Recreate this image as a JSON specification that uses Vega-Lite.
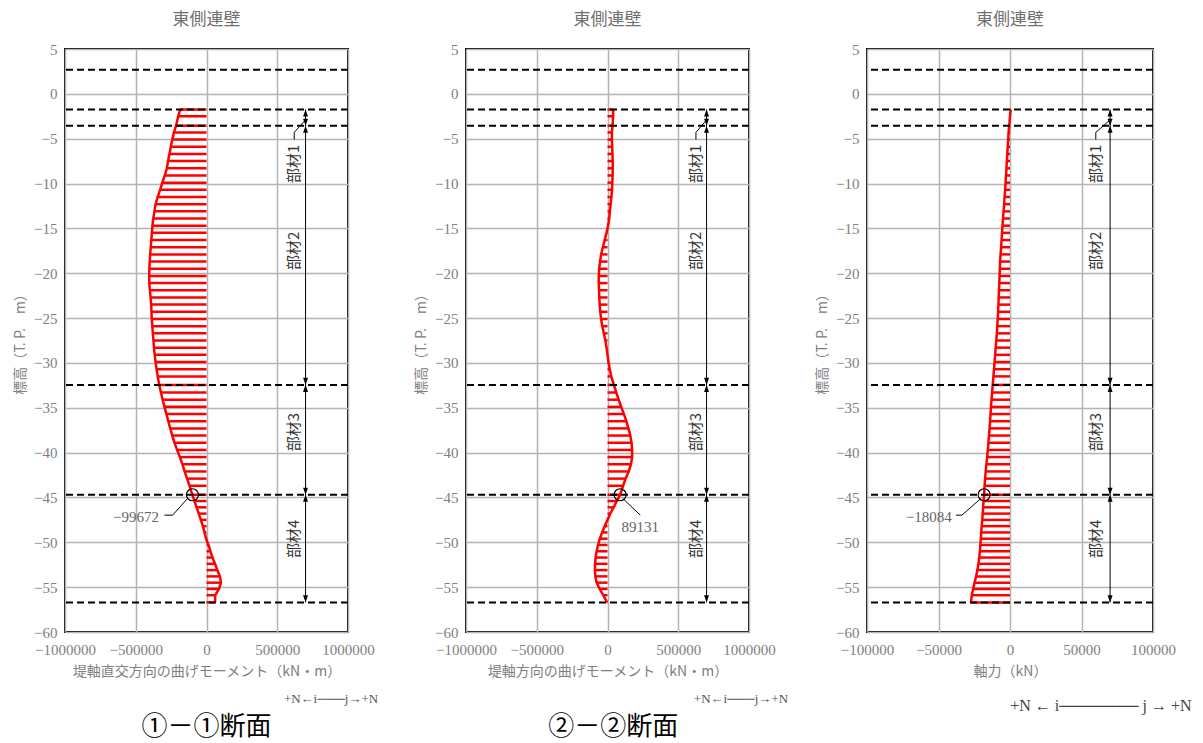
{
  "$schema": "https://vega.github.io/schema/vega-lite/v6.json",
  "background": "white",
  "padding": {"left": 12, "top": 10, "right": 5, "bottom": 5},
  "datasets": {
    "curve": [
      {"z": -1.75, "m1": -186000, "m2": 40000, "n": 500},
      {"z": -2.5, "m1": -200000, "m2": 40000, "n": 0},
      {"z": -3.55, "m1": -215000, "m2": 36000, "n": -500},
      {"z": -4.3, "m1": -230000, "m2": 31000, "n": -1000},
      {"z": -5.1, "m1": -242000, "m2": 31000, "n": -1300},
      {"z": -5.9, "m1": -252000, "m2": 33000, "n": -1600},
      {"z": -6.7, "m1": -262000, "m2": 35000, "n": -1900},
      {"z": -7.5, "m1": -272000, "m2": 37000, "n": -2200},
      {"z": -8.3, "m1": -280000, "m2": 37000, "n": -2500},
      {"z": -9.1, "m1": -295000, "m2": 36000, "n": -2800},
      {"z": -9.9, "m1": -312000, "m2": 34000, "n": -3100},
      {"z": -10.7, "m1": -328000, "m2": 32000, "n": -3400},
      {"z": -11.5, "m1": -345000, "m2": 28000, "n": -3800},
      {"z": -12.3, "m1": -360000, "m2": 22000, "n": -4100},
      {"z": -13.1, "m1": -368000, "m2": 17000, "n": -4500},
      {"z": -13.9, "m1": -376000, "m2": 12000, "n": -4900},
      {"z": -14.7, "m1": -382000, "m2": 4000, "n": -5200},
      {"z": -15.5, "m1": -386000, "m2": -7000, "n": -5600},
      {"z": -16.3, "m1": -390000, "m2": -20000, "n": -5900},
      {"z": -17.1, "m1": -394000, "m2": -33000, "n": -6200},
      {"z": -17.9, "m1": -398000, "m2": -45000, "n": -6600},
      {"z": -18.7, "m1": -401000, "m2": -53000, "n": -6900},
      {"z": -19.5, "m1": -404000, "m2": -59000, "n": -7100},
      {"z": -20.3, "m1": -405000, "m2": -62000, "n": -7300},
      {"z": -21.1, "m1": -404000, "m2": -62000, "n": -7500},
      {"z": -21.9, "m1": -400000, "m2": -60000, "n": -7700},
      {"z": -22.7, "m1": -395000, "m2": -58000, "n": -7900},
      {"z": -23.5, "m1": -391000, "m2": -55000, "n": -8100},
      {"z": -24.3, "m1": -389000, "m2": -51000, "n": -8300},
      {"z": -25.1, "m1": -387000, "m2": -45000, "n": -8600},
      {"z": -25.9, "m1": -383000, "m2": -37000, "n": -8900},
      {"z": -26.7, "m1": -379000, "m2": -26000, "n": -9200},
      {"z": -27.5, "m1": -375000, "m2": -15000, "n": -9600},
      {"z": -28.3, "m1": -371000, "m2": -7000, "n": -10000},
      {"z": -29.1, "m1": -366000, "m2": 0, "n": -10400},
      {"z": -29.9, "m1": -360000, "m2": 7000, "n": -10800},
      {"z": -30.7, "m1": -353000, "m2": 16000, "n": -11200},
      {"z": -31.5, "m1": -345000, "m2": 27000, "n": -11600},
      {"z": -32.45, "m1": -334000, "m2": 45000, "n": -12100},
      {"z": -33.3, "m1": -322000, "m2": 62000, "n": -12500},
      {"z": -34.1, "m1": -310000, "m2": 79000, "n": -12900},
      {"z": -34.9, "m1": -297000, "m2": 97000, "n": -13300},
      {"z": -35.7, "m1": -283000, "m2": 116000, "n": -13600},
      {"z": -36.5, "m1": -270000, "m2": 133000, "n": -13900},
      {"z": -37.3, "m1": -256000, "m2": 148000, "n": -14300},
      {"z": -38.1, "m1": -242000, "m2": 161000, "n": -14700},
      {"z": -38.9, "m1": -226000, "m2": 170000, "n": -15100},
      {"z": -39.7, "m1": -208000, "m2": 174000, "n": -15500},
      {"z": -40.5, "m1": -188000, "m2": 174000, "n": -16000},
      {"z": -41.3, "m1": -170000, "m2": 166000, "n": -16500},
      {"z": -42.1, "m1": -155000, "m2": 150000, "n": -17000},
      {"z": -42.9, "m1": -137000, "m2": 128000, "n": -17400},
      {"z": -43.7, "m1": -120000, "m2": 110000, "n": -17800},
      {"z": -44.7, "m1": -99672, "m2": 89131, "n": -18084},
      {"z": -45.4, "m1": -85000, "m2": 66000, "n": -18500},
      {"z": -46.1, "m1": -70000, "m2": 43000, "n": -18800},
      {"z": -46.8, "m1": -55000, "m2": 20000, "n": -19100},
      {"z": -47.5, "m1": -40000, "m2": 0, "n": -19400},
      {"z": -48.2, "m1": -26000, "m2": -20000, "n": -19800},
      {"z": -48.9, "m1": -14000, "m2": -38000, "n": -20100},
      {"z": -49.6, "m1": -3000, "m2": -54000, "n": -20400},
      {"z": -50.3, "m1": 14000, "m2": -67000, "n": -20700},
      {"z": -51.0, "m1": 28000, "m2": -77000, "n": -21100},
      {"z": -51.7, "m1": 42000, "m2": -84000, "n": -21500},
      {"z": -52.4, "m1": 60000, "m2": -88000, "n": -22100},
      {"z": -53.1, "m1": 77000, "m2": -89000, "n": -22800},
      {"z": -53.8, "m1": 95000, "m2": -86000, "n": -23700},
      {"z": -54.5, "m1": 102000, "m2": -77000, "n": -24800},
      {"z": -55.2, "m1": 88000, "m2": -55000, "n": -25800},
      {"z": -55.9, "m1": 62000, "m2": -30000, "n": -26700},
      {"z": -56.7, "m1": 60000, "m2": -3000, "n": -27300}
    ],
    "dash": [{"z": 2.7}, {"z": -1.75}, {"z": -3.55}, {"z": -32.45}, {"z": -44.7}, {"z": -56.7}],
    "span": [{"top": -1.75, "bot": -56.7}],
    "member": [
      {"m": "部材1", "top": -1.75, "bot": -3.55, "mid": -7.8},
      {"m": "部材2", "top": -3.55, "bot": -32.45, "mid": -17.5},
      {"m": "部材3", "top": -32.45, "bot": -44.7, "mid": -37.7},
      {"m": "部材4", "top": -44.7, "bot": -56.7, "mid": -49.6}
    ]
  },
  "config": {
    "view": {"stroke": "#000000", "strokeWidth": 2},
    "axis": {
      "grid": true, "gridColor": "#b4b4b4", "gridWidth": 1.5,
      "domain": false, "ticks": false,
      "labelFont": "Liberation Serif", "labelFontSize": 15, "labelColor": "#808080",
      "labelFlush": false, "labelOverlap": false,
      "titleFont": "Noto Sans CJK JP", "titleFontSize": 14, "titleColor": "#808080", "titleFontWeight": "normal"
    },
    "axisX": {"labelPadding": 10, "titlePadding": 7},
    "axisY": {"labelPadding": 8, "titlePadding": 6},
    "title": {"font": "Noto Sans CJK JP", "fontSize": 17, "color": "#707070", "fontWeight": "normal", "offset": 13},
    "concat": {"spacing": 118}
  },
  "bounds": "flush",
  "hconcat": [
    {
      "width": 283, "height": 583,
      "title": "東側連壁",
      "layer": [
        {"data": {"name": "curve"}, "mark": {"type": "rule", "color": "#ff0000", "strokeWidth": 2.5},
         "encoding": {
           "x": {"field": "m1", "type": "quantitative", "scale": {"domain": [-1000000, 1000000], "nice": false},
                 "axis": {"values": [-1000000, -500000, 0, 500000, 1000000], "format": "d", "title": "堤軸直交方向の曲げモーメント（kN・m）"}},
           "x2": {"datum": 0},
           "y": {"field": "z", "type": "quantitative", "scale": {"domain": [-60, 5], "nice": false, "zero": false},
                 "axis": {"values": [5, 0, -5, -10, -15, -20, -25, -30, -35, -40, -45, -50, -55, -60], "title": "標高（T. P.　m）"}}}},
        {"data": {"name": "curve"}, "mark": {"type": "line", "color": "#ff0000", "strokeWidth": 2.5},
         "encoding": {"x": {"field": "m1", "type": "quantitative"}, "y": {"field": "z", "type": "quantitative"}, "order": {"field": "z", "sort": "descending"}}},
        {"data": {"name": "dash"}, "mark": {"type": "rule", "strokeDash": [7, 4], "strokeWidth": 2, "color": "#000000"},
         "encoding": {"y": {"field": "z", "type": "quantitative"}}},
        {"data": {"name": "span"}, "mark": {"type": "rule", "color": "#000000", "strokeWidth": 1},
         "encoding": {"x": {"datum": 700000}, "y": {"field": "top", "type": "quantitative"}, "y2": {"field": "bot"}}},
        {"data": {"name": "member"}, "mark": {"type": "point", "shape": "M0,-1L-0.7,1L0.7,1Z", "filled": true, "color": "#000000", "opacity": 1, "size": 50, "yOffset": 3.5},
         "encoding": {"x": {"datum": 700000}, "y": {"field": "top", "type": "quantitative"}}},
        {"data": {"name": "member"}, "mark": {"type": "point", "shape": "M0,1L-0.7,-1L0.7,-1Z", "filled": true, "color": "#000000", "opacity": 1, "size": 50, "yOffset": -3.5},
         "encoding": {"x": {"datum": 700000}, "y": {"field": "bot", "type": "quantitative"}}},
        {"data": {"name": "member"}, "mark": {"type": "text", "angle": 270, "font": "Noto Sans CJK JP", "fontSize": 15, "color": "#333333"},
         "encoding": {"x": {"datum": 620000}, "y": {"field": "mid", "type": "quantitative"}, "text": {"field": "m"}}},
        {"data": {"values": [{"x": 620000, "z": -5.1, "o": 1}, {"x": 620000, "z": -4.3, "o": 2}, {"x": 700000, "z": -2.9, "o": 3}]},
         "mark": {"type": "line", "color": "#000000", "strokeWidth": 1},
         "encoding": {"x": {"field": "x", "type": "quantitative"}, "y": {"field": "z", "type": "quantitative"}, "order": {"field": "o"}}},
        {"data": {"values": [{"x": -99672, "z": -44.7}]},
         "mark": {"type": "point", "shape": "circle", "size": 144, "color": "#000000", "strokeWidth": 1.2, "filled": false, "opacity": 1},
         "encoding": {"x": {"field": "x", "type": "quantitative"}, "y": {"field": "z", "type": "quantitative"}}},
        {"data": {"values": [{"x": -133000, "z": -45.1, "o": 1}, {"x": -239000, "z": -46.97, "o": 2}, {"x": -298000, "z": -46.97, "o": 3}]},
         "mark": {"type": "line", "color": "#000000", "strokeWidth": 1},
         "encoding": {"x": {"field": "x", "type": "quantitative"}, "y": {"field": "z", "type": "quantitative"}, "order": {"field": "o"}}},
        {"data": {"values": [{"x": -336000, "z": -47.2, "t": "−99672"}]},
         "mark": {"type": "text", "align": "right", "baseline": "middle", "font": "Liberation Serif", "fontSize": 15, "color": "#666666"},
         "encoding": {"x": {"field": "x", "type": "quantitative"}, "y": {"field": "z", "type": "quantitative"}, "text": {"field": "t"}}},
        {"data": {"values": [{"x": 880000, "z": -67.5, "t": "+N←i───j→+N"}]},
         "mark": {"type": "text", "align": "center", "baseline": "middle", "font": "Liberation Serif", "fontSize": 13, "color": "#555555"},
         "encoding": {"x": {"field": "x", "type": "quantitative"}, "y": {"field": "z", "type": "quantitative"}, "text": {"field": "t"}}},
        {"data": {"values": [{"x": 0, "z": -70.6, "t": "①－①断面"}]},
         "mark": {"type": "text", "align": "center", "baseline": "middle", "font": "Noto Sans CJK JP", "fontSize": 26, "color": "#000000"},
         "encoding": {"x": {"field": "x", "type": "quantitative"}, "y": {"field": "z", "type": "quantitative"}, "text": {"field": "t"}}}
      ]
    },
    {
      "width": 283, "height": 583,
      "title": "東側連壁",
      "layer": [
        {"data": {"name": "curve"}, "mark": {"type": "rule", "color": "#ff0000", "strokeWidth": 2.5},
         "encoding": {
           "x": {"field": "m2", "type": "quantitative", "scale": {"domain": [-1000000, 1000000], "nice": false},
                 "axis": {"values": [-1000000, -500000, 0, 500000, 1000000], "format": "d", "title": "堤軸方向の曲げモーメント（kN・m）"}},
           "x2": {"datum": 0},
           "y": {"field": "z", "type": "quantitative", "scale": {"domain": [-60, 5], "nice": false, "zero": false},
                 "axis": {"values": [5, 0, -5, -10, -15, -20, -25, -30, -35, -40, -45, -50, -55, -60], "title": "標高（T. P.　m）"}}}},
        {"data": {"name": "curve"}, "mark": {"type": "line", "color": "#ff0000", "strokeWidth": 2.5},
         "encoding": {"x": {"field": "m2", "type": "quantitative"}, "y": {"field": "z", "type": "quantitative"}, "order": {"field": "z", "sort": "descending"}}},
        {"data": {"name": "dash"}, "mark": {"type": "rule", "strokeDash": [7, 4], "strokeWidth": 2, "color": "#000000"},
         "encoding": {"y": {"field": "z", "type": "quantitative"}}},
        {"data": {"name": "span"}, "mark": {"type": "rule", "color": "#000000", "strokeWidth": 1},
         "encoding": {"x": {"datum": 700000}, "y": {"field": "top", "type": "quantitative"}, "y2": {"field": "bot"}}},
        {"data": {"name": "member"}, "mark": {"type": "point", "shape": "M0,-1L-0.7,1L0.7,1Z", "filled": true, "color": "#000000", "opacity": 1, "size": 50, "yOffset": 3.5},
         "encoding": {"x": {"datum": 700000}, "y": {"field": "top", "type": "quantitative"}}},
        {"data": {"name": "member"}, "mark": {"type": "point", "shape": "M0,1L-0.7,-1L0.7,-1Z", "filled": true, "color": "#000000", "opacity": 1, "size": 50, "yOffset": -3.5},
         "encoding": {"x": {"datum": 700000}, "y": {"field": "bot", "type": "quantitative"}}},
        {"data": {"name": "member"}, "mark": {"type": "text", "angle": 270, "font": "Noto Sans CJK JP", "fontSize": 15, "color": "#333333"},
         "encoding": {"x": {"datum": 625000}, "y": {"field": "mid", "type": "quantitative"}, "text": {"field": "m"}}},
        {"data": {"values": [{"x": 625000, "z": -5.1, "o": 1}, {"x": 625000, "z": -4.3, "o": 2}, {"x": 700000, "z": -2.9, "o": 3}]},
         "mark": {"type": "line", "color": "#000000", "strokeWidth": 1},
         "encoding": {"x": {"field": "x", "type": "quantitative"}, "y": {"field": "z", "type": "quantitative"}, "order": {"field": "o"}}},
        {"data": {"values": [{"x": 89131, "z": -44.7}]},
         "mark": {"type": "point", "shape": "circle", "size": 144, "color": "#000000", "strokeWidth": 1.2, "filled": false, "opacity": 1},
         "encoding": {"x": {"field": "x", "type": "quantitative"}, "y": {"field": "z", "type": "quantitative"}}},
        {"data": {"values": [{"x": 107000, "z": -45.1, "o": 1}, {"x": 232000, "z": -46.97, "o": 2}]},
         "mark": {"type": "line", "color": "#000000", "strokeWidth": 1},
         "encoding": {"x": {"field": "x", "type": "quantitative"}, "y": {"field": "z", "type": "quantitative"}, "order": {"field": "o"}}},
        {"data": {"values": [{"x": 232000, "z": -48.3, "t": "89131"}]},
         "mark": {"type": "text", "align": "center", "baseline": "middle", "font": "Liberation Serif", "fontSize": 15, "color": "#666666"},
         "encoding": {"x": {"field": "x", "type": "quantitative"}, "y": {"field": "z", "type": "quantitative"}, "text": {"field": "t"}}},
        {"data": {"values": [{"x": 943000, "z": -67.5, "t": "+N←i───j→+N"}]},
         "mark": {"type": "text", "align": "center", "baseline": "middle", "font": "Liberation Serif", "fontSize": 13, "color": "#555555"},
         "encoding": {"x": {"field": "x", "type": "quantitative"}, "y": {"field": "z", "type": "quantitative"}, "text": {"field": "t"}}},
        {"data": {"values": [{"x": 40000, "z": -70.6, "t": "②－②断面"}]},
         "mark": {"type": "text", "align": "center", "baseline": "middle", "font": "Noto Sans CJK JP", "fontSize": 26, "color": "#000000"},
         "encoding": {"x": {"field": "x", "type": "quantitative"}, "y": {"field": "z", "type": "quantitative"}, "text": {"field": "t"}}}
      ]
    },
    {
      "width": 286, "height": 583,
      "title": "東側連壁",
      "layer": [
        {"data": {"name": "curve"}, "mark": {"type": "rule", "color": "#ff0000", "strokeWidth": 2.5},
         "encoding": {
           "x": {"field": "n", "type": "quantitative", "scale": {"domain": [-100000, 100000], "nice": false},
                 "axis": {"values": [-100000, -50000, 0, 50000, 100000], "format": "d", "title": "軸力（kN）"}},
           "x2": {"datum": 0},
           "y": {"field": "z", "type": "quantitative", "scale": {"domain": [-60, 5], "nice": false, "zero": false},
                 "axis": {"values": [5, 0, -5, -10, -15, -20, -25, -30, -35, -40, -45, -50, -55, -60], "title": "標高（T. P.　m）"}}}},
        {"data": {"name": "curve"}, "mark": {"type": "line", "color": "#ff0000", "strokeWidth": 2.5},
         "encoding": {"x": {"field": "n", "type": "quantitative"}, "y": {"field": "z", "type": "quantitative"}, "order": {"field": "z", "sort": "descending"}}},
        {"data": {"name": "dash"}, "mark": {"type": "rule", "strokeDash": [7, 4], "strokeWidth": 2, "color": "#000000"},
         "encoding": {"y": {"field": "z", "type": "quantitative"}}},
        {"data": {"name": "span"}, "mark": {"type": "rule", "color": "#000000", "strokeWidth": 1},
         "encoding": {"x": {"datum": 70000}, "y": {"field": "top", "type": "quantitative"}, "y2": {"field": "bot"}}},
        {"data": {"name": "member"}, "mark": {"type": "point", "shape": "M0,-1L-0.7,1L0.7,1Z", "filled": true, "color": "#000000", "opacity": 1, "size": 50, "yOffset": 3.5},
         "encoding": {"x": {"datum": 70000}, "y": {"field": "top", "type": "quantitative"}}},
        {"data": {"name": "member"}, "mark": {"type": "point", "shape": "M0,1L-0.7,-1L0.7,-1Z", "filled": true, "color": "#000000", "opacity": 1, "size": 50, "yOffset": -3.5},
         "encoding": {"x": {"datum": 70000}, "y": {"field": "bot", "type": "quantitative"}}},
        {"data": {"name": "member"}, "mark": {"type": "text", "angle": 270, "font": "Noto Sans CJK JP", "fontSize": 15, "color": "#333333"},
         "encoding": {"x": {"datum": 60000}, "y": {"field": "mid", "type": "quantitative"}, "text": {"field": "m"}}},
        {"data": {"values": [{"x": 60000, "z": -5.1, "o": 1}, {"x": 60000, "z": -4.3, "o": 2}, {"x": 70000, "z": -2.9, "o": 3}]},
         "mark": {"type": "line", "color": "#000000", "strokeWidth": 1},
         "encoding": {"x": {"field": "x", "type": "quantitative"}, "y": {"field": "z", "type": "quantitative"}, "order": {"field": "o"}}},
        {"data": {"values": [{"x": -18084, "z": -44.7}]},
         "mark": {"type": "point", "shape": "circle", "size": 144, "color": "#000000", "strokeWidth": 1.2, "filled": false, "opacity": 1},
         "encoding": {"x": {"field": "x", "type": "quantitative"}, "y": {"field": "z", "type": "quantitative"}}},
        {"data": {"values": [{"x": -20300, "z": -45.1, "o": 1}, {"x": -33600, "z": -46.97, "o": 2}, {"x": -37800, "z": -46.97, "o": 3}]},
         "mark": {"type": "line", "color": "#000000", "strokeWidth": 1},
         "encoding": {"x": {"field": "x", "type": "quantitative"}, "y": {"field": "z", "type": "quantitative"}, "order": {"field": "o"}}},
        {"data": {"values": [{"x": -40800, "z": -47.2, "t": "−18084"}]},
         "mark": {"type": "text", "align": "right", "baseline": "middle", "font": "Liberation Serif", "fontSize": 15, "color": "#666666"},
         "encoding": {"x": {"field": "x", "type": "quantitative"}, "y": {"field": "z", "type": "quantitative"}, "text": {"field": "t"}}},
        {"data": {"values": [{"x": 63600, "z": -68.2, "t": "+N ← i─────── j → +N"}]},
         "mark": {"type": "text", "align": "center", "baseline": "middle", "font": "Liberation Serif", "fontSize": 16, "color": "#444444"},
         "encoding": {"x": {"field": "x", "type": "quantitative"}, "y": {"field": "z", "type": "quantitative"}, "text": {"field": "t"}}}
      ]
    }
  ]
}
